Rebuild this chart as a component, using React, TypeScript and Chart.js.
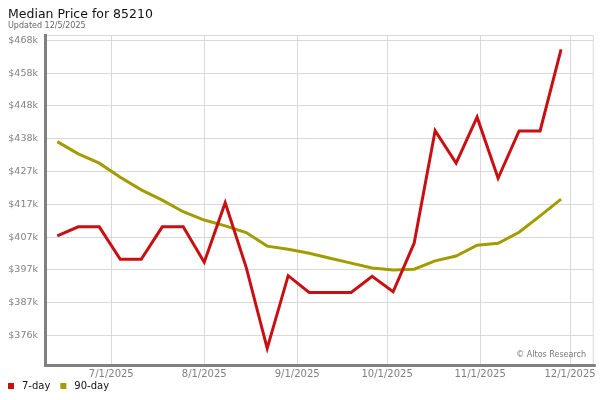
import { useEffect, useRef } from 'react';
import { Chart, registerables } from 'chart.js';

Chart.register(...registerables);

const chartTitle = 'Median Price for 85210';
const updatedText = 'Updated 12/5/2025';
const creditText = '© Altos Research';

const weekDates = [
  '2025-06-13', '2025-06-20', '2025-06-27', '2025-07-04', '2025-07-11', '2025-07-18', '2025-07-25',
  '2025-08-01', '2025-08-08', '2025-08-15', '2025-08-22', '2025-08-29', '2025-09-05', '2025-09-12',
  '2025-09-19', '2025-09-26', '2025-10-03', '2025-10-10', '2025-10-17', '2025-10-24', '2025-10-31',
  '2025-11-07', '2025-11-14', '2025-11-21', '2025-11-28',
];

// values in $ thousands
const sevenDay = [
  407.4, 410.2, 410.2, 400.1, 400.1, 410.2, 410.2, 399.2, 417.7, 397.6, 372.4, 395.0, 389.8,
  389.8, 389.8, 394.8, 390.0, 405.1, 440.1, 430.0, 444.3, 425.3, 440.0, 440.0, 465.4,
];
const ninetyDay = [
  436.7, 432.9, 430.0, 425.6, 421.7, 418.5, 414.9, 412.3, 410.5, 408.4, 404.2, 403.2, 402.0,
  400.4, 398.9, 397.4, 396.8, 397.0, 399.6, 401.1, 404.5, 405.1, 408.5, 413.6, 418.8,
];

const seriesNames = ['7-day', '90-day'];
const seriesColors = ['#c80f12', '#a29c00'];

const yTickValues = [376.4, 386.6, 396.8, 407.0, 417.2, 427.4, 437.6, 447.8, 458.0, 468.2];
const xTickDates = ['2025-07-01', '2025-08-01', '2025-09-01', '2025-10-01', '2025-11-01', '2025-12-01'];

const dayNum = (s: string) => {
  const [y, m, d] = s.split('-').map(Number);
  return Date.UTC(y, m - 1, d) / 86400000;
};
const fmtDay = (v: number) => {
  const dt = new Date(Math.round(v) * 86400000);
  return `${dt.getUTCMonth() + 1}/${dt.getUTCDate()}/${dt.getUTCFullYear()}`;
};

const FONT = '"DejaVu Sans", Verdana, sans-serif';

const decor = {
  id: 'decor',
  afterDraw(chart: any) {
    const { ctx, chartArea } = chart;
    const { left, right, top, bottom } = chartArea;
    ctx.save();
    // light frame top/right
    ctx.strokeStyle = '#d9d9d9';
    ctx.lineWidth = 1;
    ctx.beginPath();
    ctx.moveTo(left, top + 0.5);
    ctx.lineTo(right + 0.5, top + 0.5);
    ctx.lineTo(right + 0.5, bottom);
    ctx.stroke();
    // thick axis bars
    ctx.fillStyle = '#808080';
    ctx.fillRect(left - 3, top - 1, 3, bottom - top + 4);
    ctx.fillRect(left - 3, bottom, right - left + 6, 3);
    // title
    ctx.fillStyle = '#111';
    ctx.font = `12.5px ${FONT}`;
    ctx.textAlign = 'left';
    ctx.textBaseline = 'alphabetic';
    ctx.fillText(chartTitle, 8, 18.3);
    ctx.fillStyle = '#666';
    ctx.font = `8px ${FONT}`;
    ctx.fillText(updatedText, 8, 27.5);
    // credit
    ctx.fillStyle = '#777';
    ctx.font = `8px ${FONT}`;
    ctx.textAlign = 'right';
    ctx.fillText(creditText, 586, 357);
    // legend
    ctx.textAlign = 'left';
    ctx.textBaseline = 'middle';
    ctx.font = `10px ${FONT}`;
    let x = 8;
    chart.data.datasets.forEach((ds: any) => {
      ctx.fillStyle = ds.borderColor;
      ctx.fillRect(x, 383, 6, 6);
      ctx.fillStyle = '#111';
      ctx.fillText(ds.label, x + 14, 386.5);
      x += 14 + ctx.measureText(ds.label).width + 10;
    });
    ctx.restore();
  },
};

export default function App() {
  const ref = useRef<HTMLCanvasElement>(null);
  useEffect(() => {
    if (!ref.current) return;
    const xs = weekDates.map(dayNum);
    const aug1 = dayNum('2025-08-01');
    const chart = new Chart(ref.current, {
      type: 'line',
      data: {
        datasets: [
          {
            label: seriesNames[0],
            data: xs.map((x, i) => ({ x, y: sevenDay[i] })),
            borderColor: seriesColors[0],
            backgroundColor: seriesColors[0],
            borderWidth: 3,
            pointRadius: 0,
            tension: 0,
          },
          {
            label: seriesNames[1],
            data: xs.map((x, i) => ({ x, y: ninetyDay[i] })),
            borderColor: seriesColors[1],
            backgroundColor: seriesColors[1],
            borderWidth: 3,
            pointRadius: 0,
            tension: 0,
          },
        ],
      },
      options: {
        responsive: false,
        animation: false,
        devicePixelRatio: 1,
        layout: { padding: { top: 35, right: 7, left: 0, bottom: 0 } },
        plugins: { legend: { display: false }, tooltip: { enabled: false }, title: { display: false } },
        scales: {
          x: {
            type: 'linear',
            min: aug1 - 52.43,
            max: aug1 + 129.57,
            afterFit: (s: any) => { s.height = 36; },
            afterBuildTicks: (s: any) => { s.ticks = xTickDates.map((d) => ({ value: dayNum(d) })); },
            grid: { color: '#d9d9d9', drawTicks: false },
            border: { display: false },
            ticks: {
              autoSkip: false,
              maxRotation: 0,
              padding: 4,
              color: '#808080',
              font: { family: FONT, size: 10 },
              callback: (v: any) => fmtDay(Number(v)),
            },
          },
          y: {
            type: 'linear',
            min: 367.54,
            max: 469.85,
            afterFit: (s: any) => { s.width = 47; },
            afterBuildTicks: (s: any) => { s.ticks = yTickValues.map((v) => ({ value: v })); },
            grid: { color: '#d9d9d9', drawTicks: false },
            border: { display: false },
            ticks: {
              autoSkip: false,
              padding: 9,
              color: '#808080',
              font: { family: FONT, size: 9.5 },
              callback: (v: any) => `$${Math.round(Number(v))}k`,
            },
          },
        },
      },
      plugins: [decor],
    });
    return () => chart.destroy();
  }, []);
  return (
    <div style={{ position: 'absolute', left: 0, top: 0, width: 600, height: 400, background: '#fff' }}>
      <canvas ref={ref} width={600} height={400} style={{ display: 'block' }} />
    </div>
  );
}
